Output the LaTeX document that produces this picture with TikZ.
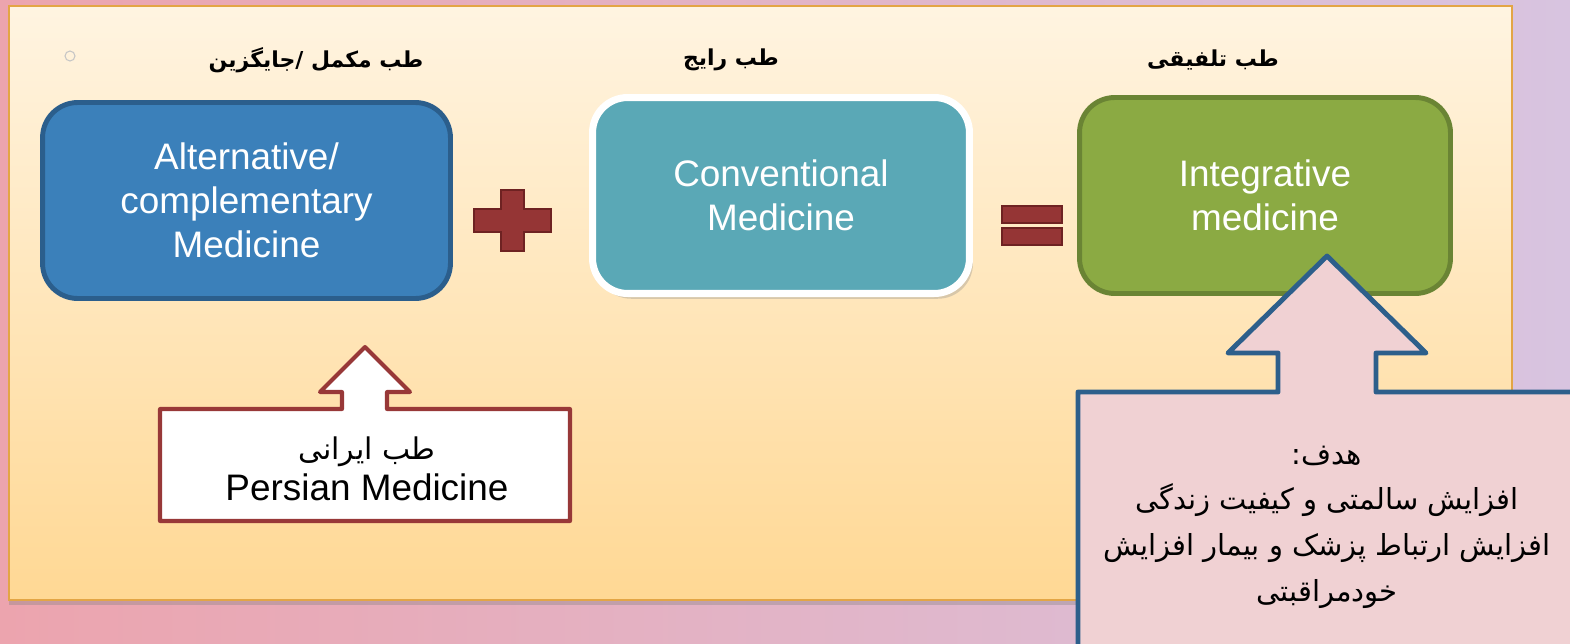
\documentclass[tikz,border=0pt]{standalone}
\usepackage{fontspec}
\setmainfont{Liberation Sans}
\newfontfamily\arabicfont[Script=Arabic]{DejaVu Sans}
\TeXXeTstate=1
\usetikzlibrary{shadows}
\definecolor{bgpink}{HTML}{ECA4AE}
\definecolor{bgviolet}{HTML}{D8C4E0}
\definecolor{paneltop}{HTML}{FFF4E1}
\definecolor{panelbot}{HTML}{FFD894}
\definecolor{panelline}{HTML}{E3A545}
\definecolor{altfill}{HTML}{3B80BA}
\definecolor{altline}{HTML}{2B5E8C}
\definecolor{convfill}{HTML}{5AA8B6}
\definecolor{intfill}{HTML}{8BAA43}
\definecolor{intline}{HTML}{6A8434}
\definecolor{signfill}{HTML}{953535}
\definecolor{signline}{HTML}{6E2222}
\definecolor{persline}{HTML}{983838}
\definecolor{goalfill}{HTML}{F0D1D3}
\definecolor{goalline}{HTML}{2D5F8B}
\tikzset{
  medbox/.style={rounded corners=20pt, align=center, text=white,
    font=\fontsize{21}{25}\selectfont, minimum height=3.92cm, inner sep=0pt},
  heading/.style={font=\arabicfont\bfseries\fontsize{12.5}{15}\selectfont, text=black, inner sep=0pt},
  signshape/.style={fill=signfill, draw=signline, line width=1.6pt},
  callout/.style={line join=round, line cap=round},
  calltext/.style={align=center, text=black, inner sep=0pt},
}
\begin{document}
\begin{tikzpicture}[x=0.02cm,y=-0.02cm]
\useasboundingbox (0,0) rectangle (1570,643);
\shade[left color=bgpink, right color=bgviolet] (0,0) rectangle (1570,643);
\begin{scope}
\clip (0,0) rectangle (1570,643);
% panel
\path[draw=panelline, line width=1.2pt, top color=paneltop, bottom color=panelbot,
  drop shadow={shadow xshift=0pt, shadow yshift=-3pt, opacity=0.35}] (9,6) rectangle (1512,600);
\draw[gray!45, line width=0.6pt] (70,56) circle[radius=0.1cm];

% headings
\node[heading] (h1) at (316,60) {\beginR طب مکمل /\kern0pt جایگزین\endR};
\node[heading] (h2) at (731,60) {\beginR طب رایج\endR};
\node[heading] (h3) at (1213,60) {\beginR طب تلفیقی\endR};

% boxes
\node[medbox, fill=altfill, draw=altline, line width=2.8pt, minimum width=8.16cm] (alt) at (246.5,200.5)
  {Alternative/\\complementary\\Medicine};
\node[medbox, fill=convfill, draw=white, line width=4pt, minimum width=7.54cm,
  drop shadow={shadow xshift=2pt, shadow yshift=-3pt, opacity=0.3}] (conv) at (781,195.5)
  {Conventional\\Medicine};
\node[medbox, fill=intfill, draw=intline, line width=2.8pt, minimum width=7.42cm] (int) at (1265,195.5)
  {Integrative\\medicine};

% plus sign
\draw[signshape] (501,190) -- (524,190) -- (524,209) -- (551,209) -- (551,232) -- (524,232)
  -- (524,251) -- (501,251) -- (501,232) -- (474,232) -- (474,209) -- (501,209) -- cycle;
% equals sign
\draw[signshape] (1002,206) rectangle (1062,223);
\draw[signshape] (1002,228) rectangle (1062,245);

% Persian medicine callout
\draw[callout, fill=white, draw=persline, line width=2.3pt]
  (160,409) -- (342,409) -- (342,392) -- (320,392) -- (365,347) -- (410,392) -- (387,392)
  -- (387,409) -- (570,409) -- (570,521) -- (160,521) -- cycle;
\node[calltext, font=\fontsize{21}{23}\selectfont] (pers) at (367,469)
  {{\arabicfont\fontsize{17}{23}\selectfont\beginR طب ایرانی\endR}\\Persian Medicine};

% goal callout
\draw[callout, fill=goalfill, draw=goalline, line width=2.8pt]
  (1078,680) -- (1078,392) -- (1278,392) -- (1278,353) -- (1228,353) -- (1327,256)
  -- (1426,353) -- (1376,353) -- (1376,392) -- (1600,392) -- (1600,680) -- cycle;
\node[calltext, font=\arabicfont\fontsize{16.5}{26}\selectfont] (goal) at (1327,527)
  {\beginR هدف:\endR\\
   \beginR افزایش سالمتی و کیفیت زندگی\endR\\
   \beginR افزایش ارتباط پزشک و بیمار افزایش\endR\\
   \beginR خودمراقبتی\endR};
\end{scope}
\end{tikzpicture}
\end{document}
